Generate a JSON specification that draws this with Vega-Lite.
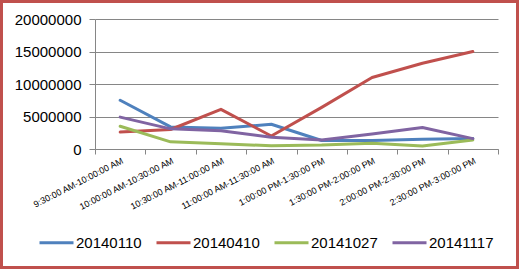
{
  "$schema": "https://vega.github.io/schema/vega-lite/v6.json",
  "width": 513,
  "height": 263,
  "autosize": {"type": "none"},
  "padding": 3,
  "background": "#C0504D",
  "config": {"view": {"fill": "white", "stroke": null}, "font": "Liberation Sans"},
  "data": {"values": [
    {"time": "9:30:00 AM-10:00:00 AM", "series": "20140110", "value": 7500000},
    {"time": "10:00:00 AM-10:30:00 AM", "series": "20140110", "value": 3400000},
    {"time": "10:30:00 AM-11:00:00 AM", "series": "20140110", "value": 3200000},
    {"time": "11:00:00 AM-11:30:00 AM", "series": "20140110", "value": 3800000},
    {"time": "1:00:00 PM-1:30:00 PM", "series": "20140110", "value": 1300000},
    {"time": "1:30:00 PM-2:00:00 PM", "series": "20140110", "value": 1300000},
    {"time": "2:00:00 PM-2:30:00 PM", "series": "20140110", "value": 1500000},
    {"time": "2:30:00 PM-3:00:00 PM", "series": "20140110", "value": 1600000},
    {"time": "9:30:00 AM-10:00:00 AM", "series": "20140410", "value": 2600000},
    {"time": "10:00:00 AM-10:30:00 AM", "series": "20140410", "value": 3000000},
    {"time": "10:30:00 AM-11:00:00 AM", "series": "20140410", "value": 6100000},
    {"time": "11:00:00 AM-11:30:00 AM", "series": "20140410", "value": 2000000},
    {"time": "1:00:00 PM-1:30:00 PM", "series": "20140410", "value": 6400000},
    {"time": "1:30:00 PM-2:00:00 PM", "series": "20140410", "value": 11000000},
    {"time": "2:00:00 PM-2:30:00 PM", "series": "20140410", "value": 13200000},
    {"time": "2:30:00 PM-3:00:00 PM", "series": "20140410", "value": 15000000},
    {"time": "9:30:00 AM-10:00:00 AM", "series": "20141027", "value": 3500000},
    {"time": "10:00:00 AM-10:30:00 AM", "series": "20141027", "value": 1100000},
    {"time": "10:30:00 AM-11:00:00 AM", "series": "20141027", "value": 800000},
    {"time": "11:00:00 AM-11:30:00 AM", "series": "20141027", "value": 500000},
    {"time": "1:00:00 PM-1:30:00 PM", "series": "20141027", "value": 600000},
    {"time": "1:30:00 PM-2:00:00 PM", "series": "20141027", "value": 900000},
    {"time": "2:00:00 PM-2:30:00 PM", "series": "20141027", "value": 450000},
    {"time": "2:30:00 PM-3:00:00 PM", "series": "20141027", "value": 1400000},
    {"time": "9:30:00 AM-10:00:00 AM", "series": "20141117", "value": 4900000},
    {"time": "10:00:00 AM-10:30:00 AM", "series": "20141117", "value": 3100000},
    {"time": "10:30:00 AM-11:00:00 AM", "series": "20141117", "value": 2800000},
    {"time": "11:00:00 AM-11:30:00 AM", "series": "20141117", "value": 1800000},
    {"time": "1:00:00 PM-1:30:00 PM", "series": "20141117", "value": 1400000},
    {"time": "1:30:00 PM-2:00:00 PM", "series": "20141117", "value": 2300000},
    {"time": "2:00:00 PM-2:30:00 PM", "series": "20141117", "value": 3300000},
    {"time": "2:30:00 PM-3:00:00 PM", "series": "20141117", "value": 1600000}
  ]},
  "mark": {"type": "line", "strokeWidth": 3, "strokeJoin": "round", "strokeCap": "round"},
  "encoding": {
    "x": {
      "field": "time", "type": "nominal", "sort": null,
      "scale": {"type": "band", "range": [92, 495], "paddingInner": 0, "paddingOuter": 0},
      "axis": {"title": null, "offset": -117, "labelAngle": -27, "labelFontSize": 9, "labelColor": "black",
               "tickBand": "extent", "grid": false, "domainColor": "#868686", "tickColor": "#868686",
               "tickSize": 5, "labelPadding": 2}
    },
    "y": {
      "field": "value", "type": "quantitative",
      "scale": {"domain": [0, 20000000], "range": [146, 16], "nice": false, "zero": true},
      "axis": {"title": null, "offset": -92, "values": [0, 5000000, 10000000, 15000000, 20000000],
               "format": "d", "labelFontSize": 15, "labelColor": "black", "grid": true,
               "gridColor": "#868686", "domainColor": "#868686", "tickColor": "#868686",
               "tickSize": 6, "labelPadding": 8}
    },
    "color": {
      "field": "series", "type": "nominal",
      "scale": {"domain": ["20140110", "20140410", "20141027", "20141117"],
                "range": ["#4F81BD", "#C0504D", "#9BBB59", "#8064A2"]},
      "legend": {"title": null, "orient": "none", "direction": "horizontal", "legendX": 35, "legendY": 221,
                 "labelFontSize": 15, "labelColor": "black", "symbolType": "stroke", "symbolSize": 1156,
                 "symbolStrokeWidth": 3, "labelOffset": 1, "columnPadding": 8, "padding": 0}
    }
  }
}
